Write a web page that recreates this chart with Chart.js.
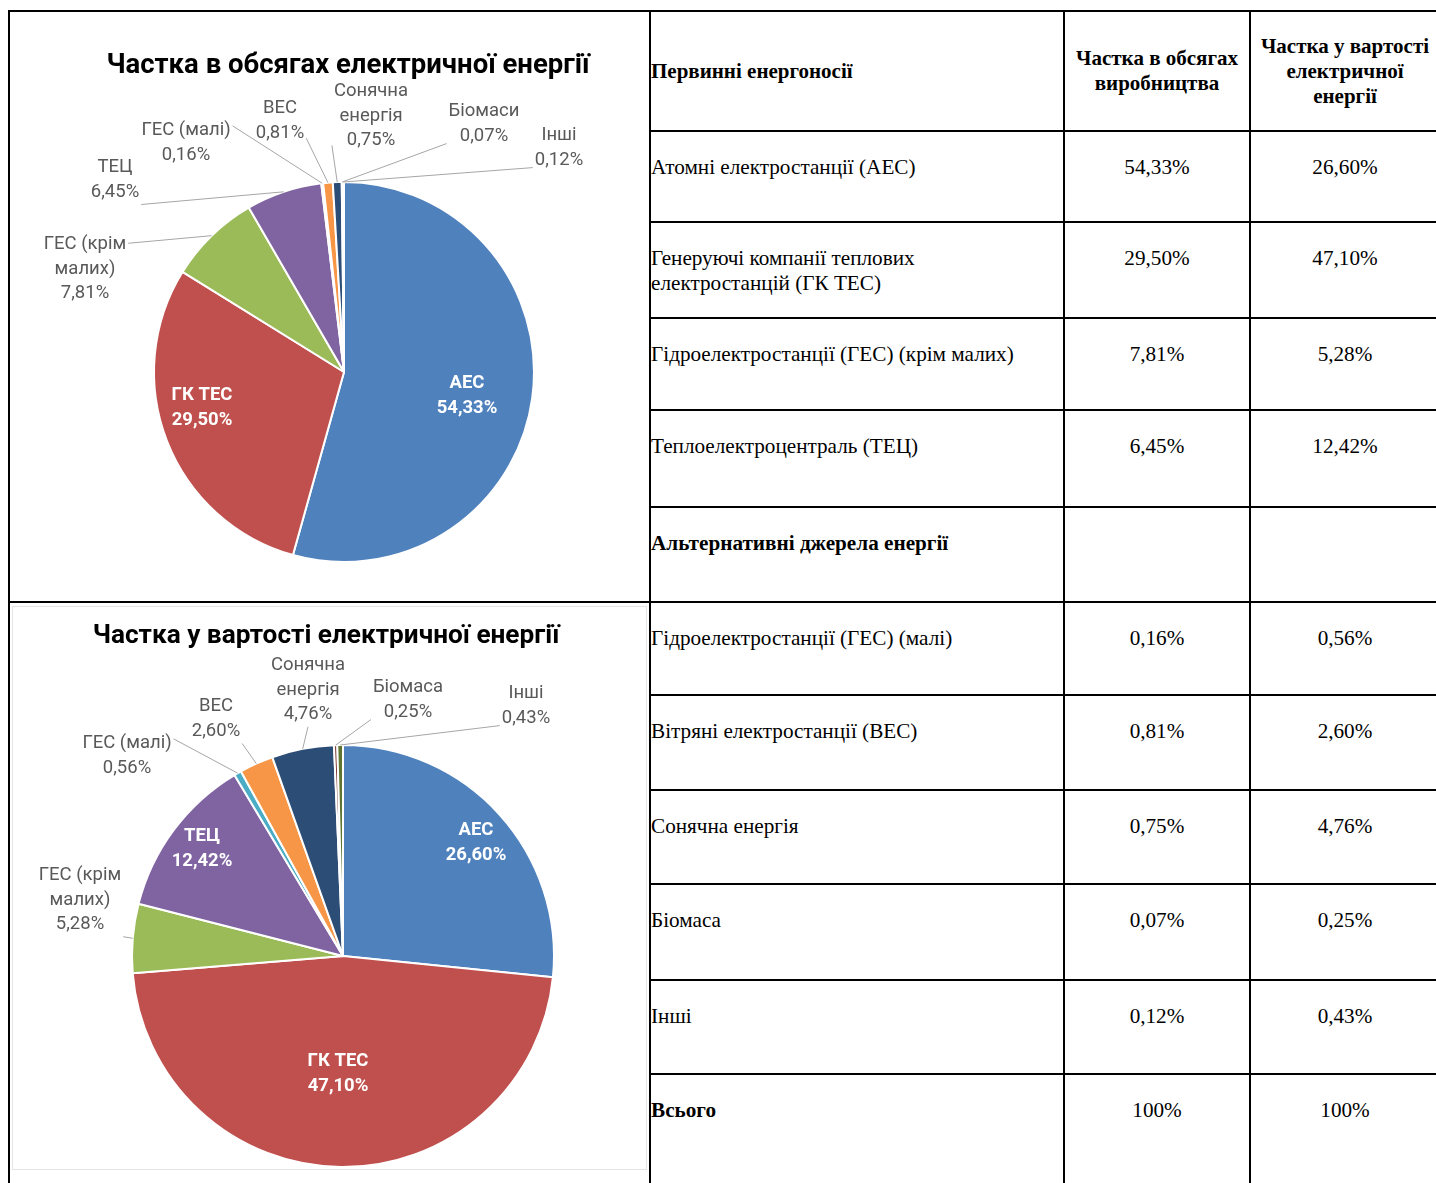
<!DOCTYPE html>
<html>
<head>
<meta charset="utf-8">
<script src="https://cdn.jsdelivr.net/npm/chart.js@4.4.0/dist/chart.umd.min.js"></script>
<style>
  body { margin: 0; width: 1436px; height: 1183px; overflow: hidden; background: #fff; }
  #page { position: relative; width: 1436px; height: 1183px; overflow: hidden; }
  table { position: absolute; left: 8px; top: 10px; width: 1431px; border-collapse: collapse; table-layout: fixed;
          font-family: "Liberation Serif", "Times New Roman", serif; font-size: 21.2px; color: #000; }
  td { border: 2px solid #000; padding: 23px 12px 0 0; vertical-align: top; line-height: 25px; }
  td.num { text-align: center; padding-left: 0; padding-right: 0; }
  tr.head td { vertical-align: middle; padding: 0; font-weight: bold; font-size: 21px; }
  td.chartcell { padding: 0; }
  canvas { position: absolute; }
  #frame2 { position: absolute; left: 12px; top: 606px; width: 633px; height: 562px; border: 1px solid #e4e4e4; }
</style>
</head>
<body>
<div id="page">
  <table id="tbl"></table>
  <div id="frame2"></div>
  <canvas id="volChart" width="639" height="588" style="left:10px; top:12px;"></canvas>
  <canvas id="costChart" width="639" height="578" style="left:10px; top:605px;"></canvas>
</div>
<script>
// data
var volumeCategories = ['АЕС', 'ГК ТЕС', 'ГЕС (крім малих)', 'ТЕЦ', 'ГЕС (малі)', 'ВЕС', 'Сонячна енергія', 'Біомаси', 'Інші'];
var costCategories = ['АЕС', 'ГК ТЕС', 'ГЕС (крім малих)', 'ТЕЦ', 'ГЕС (малі)', 'ВЕС', 'Сонячна енергія', 'Біомаса', 'Інші'];
var volumeShare = [54.33, 29.50, 7.81, 6.45, 0.16, 0.81, 0.75, 0.07, 0.12];
var costShare = [26.60, 47.10, 5.28, 12.42, 0.56, 2.60, 4.76, 0.25, 0.43];
var tableNames = ['Атомні електростанції (АЕС)', 'Генеруючі компанії теплових електростанцій (ГК ТЕС)',
  'Гідроелектростанції (ГЕС) (крім малих)', 'Теплоелектроцентраль (ТЕЦ)', 'Гідроелектростанції (ГЕС) (малі)',
  'Вітряні електростанції (ВЕС)', 'Сонячна енергія', 'Біомаса', 'Інші'];
var colors = ['#4F81BD', '#C0504D', '#9BBB59', '#8064A2', '#4BACC6', '#F79646', '#2C4D75', '#772C2A', '#5F7530'];

function pct(v) { return v.toFixed(2).replace('.', ',') + '%'; }

// table
var rowHeights = [120, 91, 96, 92, 97, 95, 93, 95, 94, 96, 94, 127];
var html = '<colgroup><col style="width:641px"><col style="width:414px"><col style="width:186px"><col style="width:190px"></colgroup>';
html += '<tr class="head" style="height:' + rowHeights[0] + 'px"><td class="chartcell" rowspan="6"></td>' +
  '<td>Первинні енергоносії</td><td class="num">Частка в обсягах<br>виробництва</td>' +
  '<td class="num">Частка у вартості<br>електричної<br>енергії</td></tr>';
var r = 1;
for (var i = 0; i < 4; i++) {
  html += '<tr style="height:' + rowHeights[r++] + 'px"><td>' + tableNames[i] + '</td><td class="num">' +
    pct(volumeShare[i]) + '</td><td class="num">' + pct(costShare[i]) + '</td></tr>';
}
html += '<tr style="height:' + rowHeights[r++] + 'px"><td><b>Альтернативні джерела енергії</b></td><td></td><td></td></tr>';
for (var i = 4; i < 9; i++) {
  html += '<tr style="height:' + rowHeights[r++] + 'px">' + (i === 4 ? '<td class="chartcell" rowspan="6"></td>' : '') +
    '<td>' + tableNames[i] + '</td><td class="num">' +
    pct(volumeShare[i]) + '</td><td class="num">' + pct(costShare[i]) + '</td></tr>';
}
html += '<tr style="height:' + rowHeights[r++] + 'px"><td><b>Всього</b></td><td class="num">100%</td><td class="num">100%</td></tr>';
document.getElementById('tbl').innerHTML = html;

// labels: offset of label block centre from pie centre, attach point of the leader line (fraction of box)
var labelFont = '18.5px Roboto, "Noto Sans", sans-serif';
var boldFont = 'bold 18.5px Roboto, "Noto Sans", sans-serif';

var volumeLabels = [
  { lines: ['АЕС'], dx: 123, dy: 24, inside: true },
  { lines: ['ГК ТЕС'], dx: -142, dy: 36, inside: true },
  { lines: ['ГЕС (крім', 'малих)'], dx: -259, dy: -103, ax: 1, ay: 0.15 },
  { lines: ['ТЕЦ'], dx: -229, dy: -192, ax: 1, ay: 1 },
  { lines: ['ГЕС (малі)'], dx: -158, dy: -229, ax: 1, ay: 0.15 },
  { lines: ['ВЕС'], dx: -64, dy: -251, ax: 1, ay: 0.85 },
  { lines: ['Сонячна', 'енергія'], dx: 27, dy: -256, ax: 0, ay: 0.9 },
  { lines: ['Біомаси'], dx: 140, dy: -248, ax: 0, ay: 0.9 },
  { lines: ['Інші'], dx: 215, dy: -224, ax: 0, ay: 0.9 }
];
var costLabels = [
  { lines: ['АЕС'], dx: 133, dy: -113, inside: true },
  { lines: ['ГК ТЕС'], dx: -5, dy: 118, inside: true },
  { lines: ['ГЕС (крім', 'малих)'], dx: -263, dy: -56, ax: 1, ay: 1 },
  { lines: ['ТЕЦ'], dx: -141, dy: -107, inside: true },
  { lines: ['ГЕС (малі)'], dx: -216, dy: -200, ax: 1, ay: 0.15 },
  { lines: ['ВЕС'], dx: -127, dy: -237, ax: 1, ay: 1 },
  { lines: ['Сонячна', 'енергія'], dx: -35, dy: -266, ax: 0.5, ay: 1 },
  { lines: ['Біомаса'], dx: 65, dy: -256, ax: 0, ay: 0.9 },
  { lines: ['Інші'], dx: 183, dy: -250, ax: 0, ay: 0.9 }
];

var pieLabels = {
  id: 'pieLabels',
  afterDatasetsDraw: function (chart, args, opts) {
    var ctx = chart.ctx;
    var arcs = chart.getDatasetMeta(0).data;
    var values = chart.data.datasets[0].data;
    var lh = 24.5;
    ctx.save();
    // title
    ctx.font = 'bold ' + opts.titleSize + 'px Roboto, "Noto Sans", sans-serif';
    ctx.fillStyle = '#000';
    ctx.textAlign = 'center';
    ctx.textBaseline = 'middle';
    ctx.fillText(opts.title, opts.titleX, opts.titleY);

    opts.items.forEach(function (it, i) {
      var a = arcs[i];
      var p = a.getProps(['x', 'y', 'startAngle', 'endAngle', 'outerRadius'], true);
      var lines = it.lines.concat(pct(values[i]));
      var cx = p.x + it.dx, cy = p.y + it.dy;
      ctx.font = it.inside ? boldFont : labelFont;
      var w = 0;
      lines.forEach(function (s) { w = Math.max(w, ctx.measureText(s).width); });
      var h = lines.length * lh;
      if (!it.inside) {
        var mid = (p.startAngle + p.endAngle) / 2;
        var sx = p.x + Math.cos(mid) * p.outerRadius;
        var sy = p.y + Math.sin(mid) * p.outerRadius;
        var ex = cx - w / 2 - 2 + it.ax * (w + 4);
        var ey = cy - h / 2 + it.ay * h;
        ctx.strokeStyle = '#A6A6A6';
        ctx.lineWidth = 1;
        ctx.beginPath();
        ctx.moveTo(ex, ey);
        ctx.lineTo(sx, sy);
        ctx.stroke();
      }
      ctx.fillStyle = it.inside ? '#fff' : '#595959';
      ctx.textAlign = 'center';
      ctx.textBaseline = 'middle';
      lines.forEach(function (s, k) {
        ctx.fillText(s, cx, cy - h / 2 + lh * (k + 0.5));
      });
    });
    ctx.restore();
  }
};

function makePie(id, cats, values, labels, pad, title, tx, ty, ts) {
  return new Chart(document.getElementById(id), {
    type: 'pie',
    data: {
      labels: cats,
      datasets: [{
        data: values,
        backgroundColor: colors,
        borderColor: '#fff',
        borderWidth: 2
      }]
    },
    options: {
      responsive: false,
      animation: false,
      layout: { padding: pad },
      plugins: {
        legend: { display: false },
        tooltip: { enabled: false },
        pieLabels: { items: labels, title: title, titleX: tx, titleY: ty, titleSize: ts }
      }
    },
    plugins: [pieLabels]
  });
}

makePie('volChart', volumeCategories, volumeShare, volumeLabels,
  { left: 143, right: 114, top: 169, bottom: 37 }, 'Частка в обсягах електричної енергії', 338, 54, 27.5);
makePie('costChart', costCategories, costShare, costLabels,
  { left: 121, right: 94, top: 139, bottom: 15 }, 'Частка у вартості електричної енергії', 316, 31, 26.2);
</script>
</body>
</html>
